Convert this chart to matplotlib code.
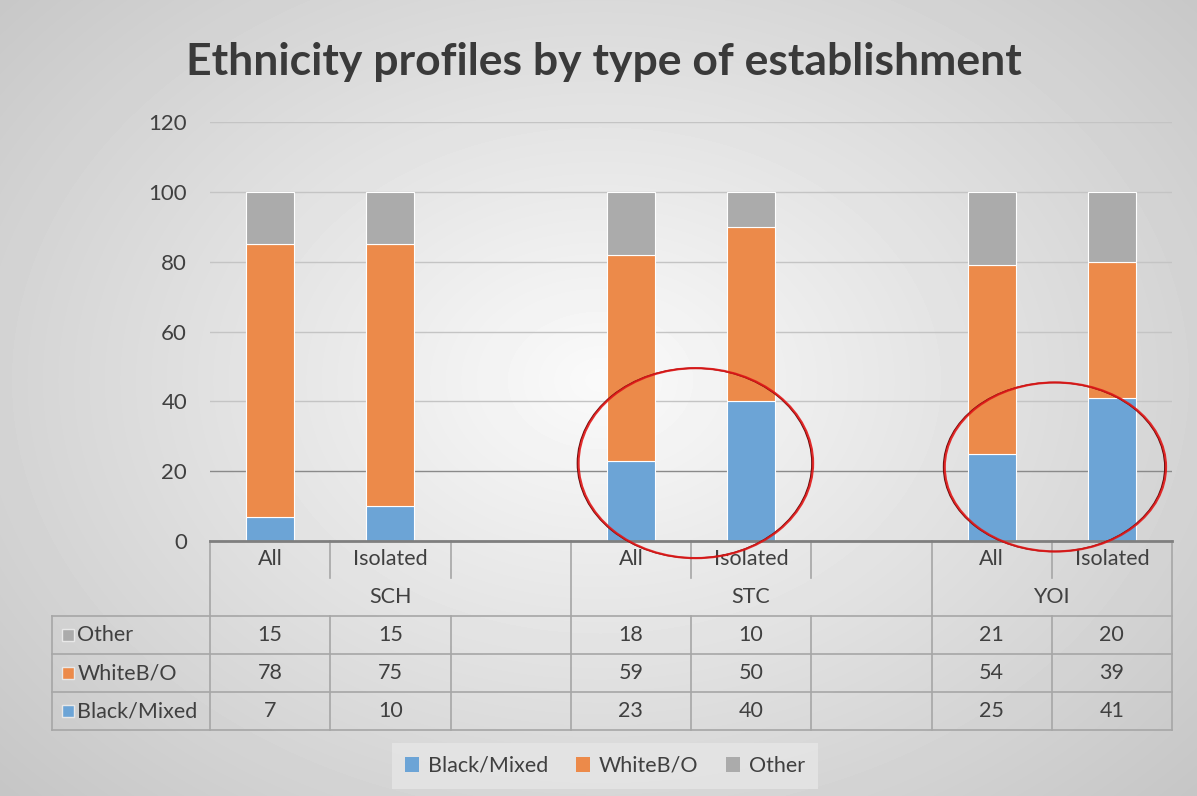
import numpy as np
import matplotlib.pyplot as plt
from matplotlib import transforms
from matplotlib.patches import Ellipse, Patch

plt.rcParams['font.family'] = ['Lato', 'DejaVu Sans']

groups = ['SCH', 'STC', 'YOI']
group_slots = [3, 3, 2]
categories = ['All', 'Isolated']
series = ['Black/Mixed', 'WhiteB/O', 'Other']
black_mixed = [7, 10, 23, 40, 25, 41]
white_bo = [78, 75, 59, 50, 54, 39]
other = [15, 15, 18, 10, 21, 20]
colors = ['#6ca4d6', '#ec8a4a', '#ababab']
txt = '#404040'

W, H = 1197, 796
fig = plt.figure(figsize=(W / 100, H / 100), dpi=100)

# background gradient
bg = fig.add_axes([0, 0, 1, 1])
yy, xx = np.mgrid[0:H, 0:W]
r = np.sqrt(((xx - 600) / 700.0) ** 2 + ((yy - 380) / 520.0) ** 2)
grad = np.clip(250 - 45 * r, 150, 255) / 255.0
bg.imshow(grad, cmap='gray', vmin=0, vmax=1, aspect='auto', extent=[0, W, H, 0])
bg.axis('off')

ax = fig.add_axes([210 / W, 1 - 541 / H, (1172 - 210) / W, (541 - 122) / H])
ax.set_facecolor('none')

starts = np.concatenate([[0], np.cumsum(group_slots)[:-1]])
nslots = int(sum(group_slots))
pos = [s + c for s in starts for c in range(len(categories))]

bottom = np.zeros(len(pos))
for name, vals, col in zip(series, [black_mixed, white_bo, other], colors):
    ax.bar(pos, vals, width=0.4, bottom=bottom, color=col, edgecolor='white',
           linewidth=0.8, zorder=3)
    bottom += np.array(vals)

ax.set_xlim(-0.5, nslots - 0.5)
ax.set_ylim(0, 120)
ax.set_yticks(range(0, 121, 20))
ax.set_xticks([])
ax.tick_params(axis='y', length=0, labelsize=16, colors=txt, pad=16.5)
ax.yaxis.grid(True, color='#c4c4c4', linewidth=1, zorder=0)
ax.get_ygridlines()[1].set_color('#8a8a8a')
for s in ax.spines.values():
    s.set_visible(False)

# title
fig.text(604 / W, 1 - 62 / H, 'Ethnicity profiles by type of establishment',
         ha='center', va='center', fontsize=32, fontweight='bold', color='#3a3a3a')

# data table
tr = transforms.blended_transform_factory(ax.transData, fig.transFigure)
def fy(p):
    return 1 - p / H

slot_px = (1172 - 210) / nslots
left_x = -0.5 - (210 - 52) / slot_px
line_c = '#a6a6a6'
kw = dict(transform=tr, clip_on=False, color=line_c, linewidth=1.2)

ax.plot([-0.5, nslots - 0.5], [fy(541), fy(541)], transform=tr, clip_on=False,
        color='#7f7f7f', linewidth=2, zorder=5)
bounds = set(list(starts) + [nslots])
for k in range(nslots + 1):
    xb = k - 0.5
    if k in bounds:
        ax.plot([xb, xb], [fy(541), fy(730)], **kw)
    else:
        ax.plot([xb, xb], [fy(541), fy(578)], **kw)
        ax.plot([xb, xb], [fy(616), fy(730)], **kw)
ax.plot([left_x, left_x], [fy(616), fy(730)], **kw)
for p in [616, 654, 692, 730]:
    ax.plot([left_x, nslots - 0.5], [fy(p), fy(p)], **kw)

for g, gname in enumerate(groups):
    ax.text(starts[g] + (group_slots[g] - 1) / 2, fy(597), gname, transform=tr,
            ha='center', va='center', fontsize=15.5, color=txt)
    for c, cname in enumerate(categories):
        ax.text(starts[g] + c, fy(559), cname, transform=tr, ha='center',
                va='center', fontsize=15.5, color=txt)

rows = [('Other', other, colors[2], 635), ('WhiteB/O', white_bo, colors[1], 673),
        ('Black/Mixed', black_mixed, colors[0], 711)]
for name, vals, col, p in rows:
    ax.plot([left_x + 0.13], [fy(p)], marker='s', markersize=9, color=col,
            markeredgecolor='#e8e8e8', transform=tr, clip_on=False)
    ax.text(left_x + 0.21, fy(p), name, transform=tr, ha='left', va='center',
            fontsize=15.5, color=txt)
    for x, v in zip(pos, vals):
        ax.text(x, fy(p), str(v), transform=tr, ha='center', va='center',
                fontsize=15.5, color=txt)

# highlight ellipses
for cx, cy, w, h in [(3.53, 22.3, 1.95, 54.4), (6.52, 21.2, 1.84, 48.4)]:
    ax.add_patch(Ellipse((cx, cy), w, h, fill=False, edgecolor='#5a0a0a',
                         linewidth=1.0, zorder=6, clip_on=False))
    ax.add_patch(Ellipse((cx + 0.01, cy), w, h, fill=False, edgecolor='#e01818',
                         linewidth=1.6, zorder=6, clip_on=False, alpha=0.9))

# legend
handles = [Patch(facecolor=c, label=s) for s, c in zip(series, colors)]
leg = fig.legend(handles=handles, loc='center', bbox_to_anchor=(605 / W, fy(766)),
                 ncol=3, frameon=True, fontsize=15.5, handlelength=0.65,
                 handleheight=0.65, handletextpad=0.4, columnspacing=1.3,
                 fancybox=False, borderpad=0.6)
leg.get_frame().set_facecolor('#e6e6e6')
leg.get_frame().set_edgecolor('none')
for t in leg.get_texts():
    t.set_color(txt)

fig.savefig('out.png', dpi=100)
